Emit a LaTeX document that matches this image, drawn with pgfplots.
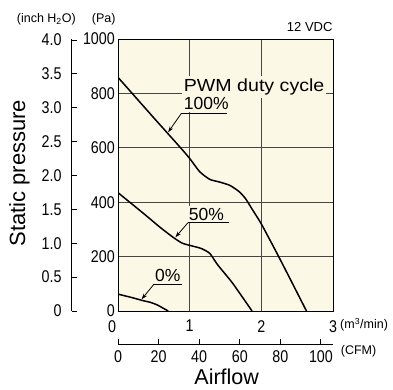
\documentclass[border=0pt]{standalone}
\usepackage{fontspec}
\setmainfont{Liberation Sans}
\newfontfamily\condfont[FakeStretch=0.84]{Liberation Sans}
\newfontfamily\widefont[FakeStretch=1.12]{Liberation Sans}
\usepackage{pgfplots}
\pgfplotsset{compat=1.18}
\usetikzlibrary{arrows.meta}
\definecolor{cream}{RGB}{251,248,230}
\definecolor{gridc}{RGB}{70,70,70}
\newcommand{\tickfont}{\condfont\fontsize{17}{17}\selectfont}
\newcommand{\lblfont}{\fontsize{17.5}{17.5}\selectfont}

\begin{document}
\begin{tikzpicture}
\useasboundingbox (0,0) rectangle (393pt,-389pt);
% inch H2O axis
\begin{axis}[at={(71.7pt,-311pt)}, anchor=south west, scale only axis,
  width=20pt, height=272pt, xmin=0, xmax=1, ymin=0, ymax=4.01464,
  hide x axis, axis y line*=left, axis line style={-, line width=0.9pt},
  ytick={0,0.5,1,1.5,2,2.5,3,3.5,4},
  yticklabels={0,0.5,1.0,1.5,2.0,2.5,3.0,3.5,4.0},
  tick align=inside, major tick length=5pt, tick style={black, line width=0.9pt},
  yticklabel style={font=\tickfont, anchor=east, inner sep=0pt, xshift=-10pt}]
\end{axis}
% CFM axis
\begin{axis}[at={(118pt,-344.3pt)}, anchor=south west, scale only axis,
  width=215pt, height=20pt, xmin=0, xmax=105.944, ymin=0, ymax=1,
  hide y axis, axis x line*=bottom, axis line style={-, line width=0.9pt},
  xtick={0,20,40,60,80,100}, xticklabels={0,20,40,60,80,100},
  tick align=inside, major tick length=5pt, tick style={black, line width=0.9pt},
  xticklabel style={font=\tickfont, anchor=north, inner sep=0pt, yshift=-5.7pt}]
\end{axis}
% main axis
\begin{axis}[at={(118pt,-311pt)}, anchor=south west, scale only axis,
  width=215pt, height=272pt, xmin=0, xmax=3, ymin=0, ymax=1000,
  xtick={0,1,2,3}, xticklabels={\makebox[0pt][r]{0\hspace{2pt}},1,2,3},
  ytick={0,200,400,600,800,1000}, yticklabels={0,200,400,600,800,1000},
  major tick length=0pt, grid=major, grid style={gridc, line width=0.9pt},
  axis background/.style={fill=cream}, axis line style={black, line width=1pt},
  tick label style={font=\tickfont},
  yticklabel style={anchor=east, inner sep=0pt, xshift=-3pt},
  xticklabel style={anchor=north, inner sep=0pt, yshift=-9pt}]
% 100%
\addplot[black, line width=1.5pt, smooth, tension=0.35] coordinates {
 (0,859) (0.5,710) (0.86,604) (1.0,561) (1.14,512) (1.28,484) (1.42,474)
 (1.56,462) (1.69,439) (1.78,413) (1.87,375) (2.0,320) (2.25,196) (2.63,0)};
% 50%
\addplot[black, line width=1.5pt, smooth, tension=0.35] coordinates {
 (0,435) (0.35,360) (0.6,305) (0.79,267) (0.9,249) (1.02,240) (1.16,230)
 (1.28,212) (1.39,170) (1.6,102) (1.87,0)};
% 0%
\addplot[black, line width=1.5pt, smooth, tension=0.35] coordinates {
 (0,62) (0.2,49) (0.35,38) (0.45,32) (0.55,22) (0.7,0)};
% annotations
\node[fill=cream, inner xsep=2pt, inner ysep=3pt, anchor=base west,
  font=\widefont\fontsize{17.5}{17.5}\selectfont] at (axis cs:0.889,806) {PWM duty cycle};
\node[fill=cream, inner xsep=2pt, inner ysep=2pt, anchor=base west, font=\lblfont]
  at (axis cs:0.889,739) {100\%};
\draw[line width=0.8pt] (axis cs:0.885,726.8) -- (axis cs:1.518,726.8);
\draw[line width=0.8pt, -{Stealth[length=6pt,width=4pt]}] (axis cs:0.885,726.8) -- (axis cs:0.699,657);
\node[fill=cream, inner xsep=2pt, inner ysep=2pt, anchor=base west, font=\lblfont]
  at (axis cs:0.958,332) {50\%};
\draw[line width=0.8pt] (axis cs:0.976,324.6) -- (axis cs:1.546,324.6);
\draw[line width=0.8pt, -{Stealth[length=6pt,width=4pt]}] (axis cs:0.976,324.6) -- (axis cs:0.801,271);
\node[fill=cream, inner xsep=2pt, inner ysep=2pt, anchor=base west, font=\lblfont]
  at (axis cs:0.486,107.7) {0\%};
\draw[line width=0.8pt] (axis cs:0.504,99.3) -- (axis cs:0.893,99.3);
\draw[line width=0.8pt, -{Stealth[length=6pt,width=4pt]}] (axis cs:0.504,99.3) -- (axis cs:0.329,43);
\end{axis}
% outside labels
\node[inner sep=0pt, anchor=west, font=\fontsize{12.5}{12.5}\selectfont] at (16.7pt,-19pt) {(inch H\textsubscript{2}O)};
\node[inner sep=0pt, anchor=west, font=\fontsize{12.5}{12.5}\selectfont] at (91.7pt,-19pt) {(Pa)};
\node[inner sep=0pt, anchor=base east, font=\fontsize{13}{13}\selectfont] at (332.7pt,-31.7pt) {12 VDC};
\node[inner sep=0pt, anchor=west, font=\fontsize{12.5}{12.5}\selectfont] at (340pt,-325pt) {(m\textsuperscript{3}/min)};
\node[inner sep=0pt, anchor=west, font=\fontsize{12.5}{12.5}\selectfont] at (340.7pt,-351pt) {(CFM)};
\node[inner sep=0pt, anchor=base, font=\fontsize{21.5}{21.5}\selectfont] at (226.7pt,-384.8pt) {Airflow};
\node[inner sep=0pt, anchor=base, rotate=90, font=\fontsize{22}{22}\selectfont] at (25pt,-173.3pt) {Static pressure};
\end{tikzpicture}
\end{document}
